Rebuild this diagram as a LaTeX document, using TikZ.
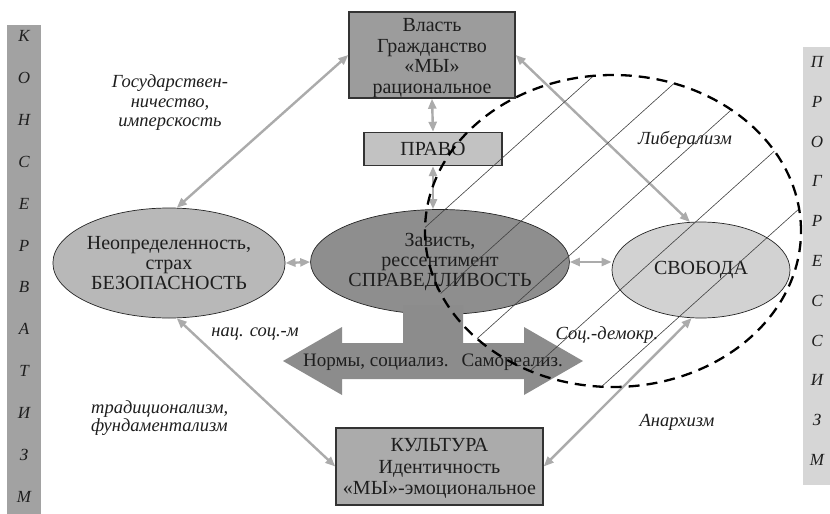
\documentclass[tikz,border=0pt]{standalone}
\usepackage{fontspec}
\setmainfont{Liberation Serif}
\usetikzlibrary{arrows.meta,shapes.geometric}
\definecolor{barL}{HTML}{A2A2A2}
\definecolor{barR}{HTML}{D6D6D6}
\definecolor{ellL}{HTML}{B8B8B8}
\definecolor{ellC}{HTML}{8E8E8E}
\definecolor{ellR}{HTML}{D2D2D2}
\definecolor{boxTop}{HTML}{9C9C9C}
\definecolor{boxPravo}{HTML}{C2C2C2}
\definecolor{boxKult}{HTML}{ABABAB}
\definecolor{bigarrow}{HTML}{8C8C8C}
\definecolor{conngray}{HTML}{ABABAB}
\definecolor{txt}{HTML}{1E1E1E}
\begin{document}
\begin{tikzpicture}[x=1pt,y=-1pt,
  barletter/.style={font=\fontsize{17}{17}\selectfont\itshape, text=txt, inner sep=0pt},
  ellst/.style={ellipse, draw=black!85, line width=0.7pt, inner sep=0pt, align=center,
    text=txt, font=\fontsize{20}{20}\selectfont},
  boxst/.style={rectangle, draw=black!80, line width=1.4pt, inner sep=0pt},
  boxtext/.style={inner sep=0pt, align=center, text=txt},
  lab/.style={font=\fontsize{18.5}{19.5}\selectfont\itshape, text=txt, inner sep=0pt},
  conn/.style={draw=conngray, line width=2.4pt,
    {Triangle[length=10pt,width=8pt]}-{Triangle[length=10pt,width=8pt]}},
  hatch/.style={draw=black!75, line width=0.6pt},
  dashring/.style={draw=black, line width=2.3pt, dash pattern=on 11pt off 7pt}
]
\useasboundingbox (0,0) rectangle (830,514);
\fill[white] (0,0) rectangle (830,514);

% side bars
\node[fill=barL, minimum width=34pt, minimum height=489pt, inner sep=0pt, anchor=north west] (lbar) at (7,25) {};
\node[fill=barR, minimum width=27pt, minimum height=438pt, inner sep=0pt, anchor=north west] (rbar) at (803,47) {};
\foreach \l [count=\i] in {К,О,Н,С,Е,Р,В,А,Т,И,З,М}
  \node[barletter] (kl\i) at (24,{36+41.9*(\i-1)}) {\l};
\foreach \l [count=\i] in {П,Р,О,Г,Р,Е,С,С,И,З,М}
  \node[barletter] (pl\i) at (817,{62+39.8*(\i-1)}) {\l};

% ellipses
\node[ellst, fill=ellL, minimum width=228pt, minimum height=110pt] (left) at (169,263)
  {Неопределенность,\\страх\\БЕЗОПАСНОСТЬ};
\node[ellst, fill=ellC, minimum width=235pt, minimum height=105pt] (center) at (440,262)
  {Зависть,\\рессентимент\\СПРАВЕДЛИВОСТЬ};
\node[ellst, fill=ellR, minimum width=178pt, minimum height=96pt] (right) at (701,270)
  {СВОБОДА};

% big double arrow with stem
\fill[bigarrow] (403,305) -- (403,343) -- (342,343) -- (342,327) -- (283,361) -- (342,395)
  -- (342,379) -- (524,379) -- (524,395) -- (583,361) -- (524,327) -- (524,343)
  -- (463,343) -- (463,305) -- cycle;
\node[font=\fontsize{19}{19}\selectfont, text=txt, inner sep=0pt] (normy) at (433,362)
  {Нормы, социализ.\hspace{13pt}Самореализ.};

% boxes
\node[boxst, fill=boxTop, minimum width=166pt, minimum height=86pt] (top) at (432,55) {};
\node[boxtext, font=\fontsize{20}{20.5}\selectfont] (toptext) at (top.center) [yshift=-3pt]
  {Власть\\Гражданство\\«МЫ»\\рациональное};
\node[boxst, fill=boxPravo, minimum width=138pt, minimum height=33pt] (pravo) at (433,149) {};
\node[boxtext, font=\fontsize{20}{20}\selectfont] (pravotext) at (pravo.center) {ПРАВО};
\node[boxst, fill=boxKult, minimum width=207pt, minimum height=77pt] (kult) at (439.5,466.5) {};
\node[boxtext, font=\fontsize{20}{21.5}\selectfont] (kulttext) at (kult.center) [yshift=-2pt]
  {КУЛЬТУРА\\Идентичность\\«МЫ»-эмоциональное};

% connectors
\draw[conn] (top.west) -- (left.82);
\draw[conn] (top.east) -- (right.103);
\draw[conn] (left.-82) -- (kult.west);
\draw[conn] (kult.east) -- (right.-101);
\draw[conn] (left.east) -- (center.west);
\draw[conn] (center.east) -- (center.east -| right.west);
\draw[conn] (top.south) -- (pravo.north);
\draw[conn] (pravo.south) -- (pravo.south |- center.north);

% hatching inside the dashed ring
\begin{scope}
  \clip (613,231) ellipse [x radius=188pt, y radius=156pt];
  \foreach \b in {610,690,768,848,928}
    \draw[hatch] (380,{\b-342}) -- (850,{\b-765});
\end{scope}
\draw[dashring] (613,231) ellipse [x radius=188pt, y radius=156pt];

% labels
\node[lab, align=center] (lgos) at (170,103) {Государствен-\\ничество,\\имперскость};
\node[lab] (llib) at (685,140) {Либерализм};
\node[lab] (lnac) at (255,334) {нац. соц.-м};
\node[lab, align=left, anchor=west, font=\fontsize{18.5}{18}\selectfont\itshape] (ltrad) at (91,418) {традиционализм,\\фундаментализм};
\node[lab] (lsoc) at (607,335) {Соц.-демокр.};
\node[lab] (lan) at (677,422) {Анархизм};
\end{tikzpicture}
\end{document}
